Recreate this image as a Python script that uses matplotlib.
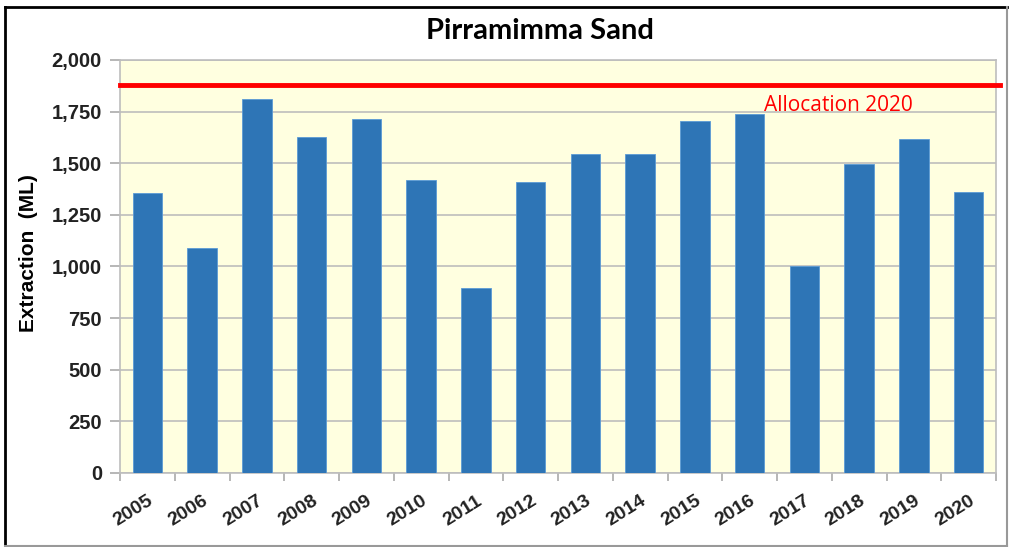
# Pirramimma Sand extraction bar chart
import matplotlib.pyplot as plt
from matplotlib.lines import Line2D

years = ["2005", "2006", "2007", "2008", "2009", "2010", "2011", "2012",
         "2013", "2014", "2015", "2016", "2017", "2018", "2019", "2020"]
extraction = [1356, 1090, 1811, 1627, 1714, 1419, 896, 1409,
              1545, 1545, 1705, 1737, 1002, 1498, 1619, 1359]
allocation = 1880
yticks = [0, 250, 500, 750, 1000, 1250, 1500, 1750, 2000]

W, H = 1011, 547
fig = plt.figure(figsize=(W / 100, H / 100), dpi=100)
ax = fig.add_axes([120 / W, 1 - 473 / H, 876 / W, 413 / H])
ax.set_facecolor("#FFFFE0")

x = list(range(len(years)))
ax.bar(x, extraction, width=0.54, color="#2E75B6", edgecolor="#5B9BD5",
       linewidth=0.6, zorder=3)
ax.axhline(allocation, xmin=0, xmax=1.005, color="#FF0000", lw=3.5,
           zorder=4, clip_on=False)
ax.text(12.63, 1782, "Allocation 2020", color="#FF0000",
        fontsize=15, family="Open Sans", va="center", ha="center", zorder=5)

ax.set_xlim(-0.5, len(years) - 0.5)
ax.set_ylim(0, 2000)
ax.set_yticks(yticks)
ax.set_yticklabels([f"{v:,}" for v in yticks], fontsize=14.5,
                   fontweight="bold", family="Liberation Sans", color="#222222")
ax.grid(axis="y", color="#BDBDBD", lw=1.2, zorder=1)

ax.set_xticks(x)
ax.set_xticklabels(years, rotation=32, ha="right", rotation_mode="anchor",
                   fontsize=14, fontweight="bold", family="Liberation Sans",
                   color="#222222")
ax.tick_params(axis="x", length=0, pad=14)
ax.set_xticks([i - 0.5 for i in range(len(years) + 1)], minor=True)
ax.tick_params(axis="x", which="minor", length=6, color="#AAAAAA", width=1.2)
ax.tick_params(axis="y", length=7, color="#AAAAAA", width=1.2, pad=6)

for s in ax.spines.values():
    s.set_color("#BDBDBD")
    s.set_linewidth(1.2)

ax.set_ylabel("Extraction  (ML)", fontsize=15, fontweight="bold",
              family="Liberation Sans")
ax.yaxis.set_label_coords(-0.094, 0.533)
fig.text(540 / W, 1 - 31 / H, "Pirramimma Sand", fontsize=21,
         fontweight="bold", family="Lato", ha="center", va="center")

# frame around the whole chart
fig.add_artist(Line2D([5 / W, 1007 / W], [1 - 7 / H, 1 - 7 / H], color="black", lw=2))
fig.add_artist(Line2D([5 / W, 5 / W], [1 - 7 / H, 1 - 546 / H], color="black", lw=2))
fig.add_artist(Line2D([5 / W, 1007 / W], [1 - 546 / H, 1 - 546 / H], color="#999999", lw=1.5))
fig.add_artist(Line2D([1007 / W, 1007 / W], [1 - 7 / H, 1 - 546 / H], color="#999999", lw=1.5))

fig.savefig("out.png", dpi=100)
